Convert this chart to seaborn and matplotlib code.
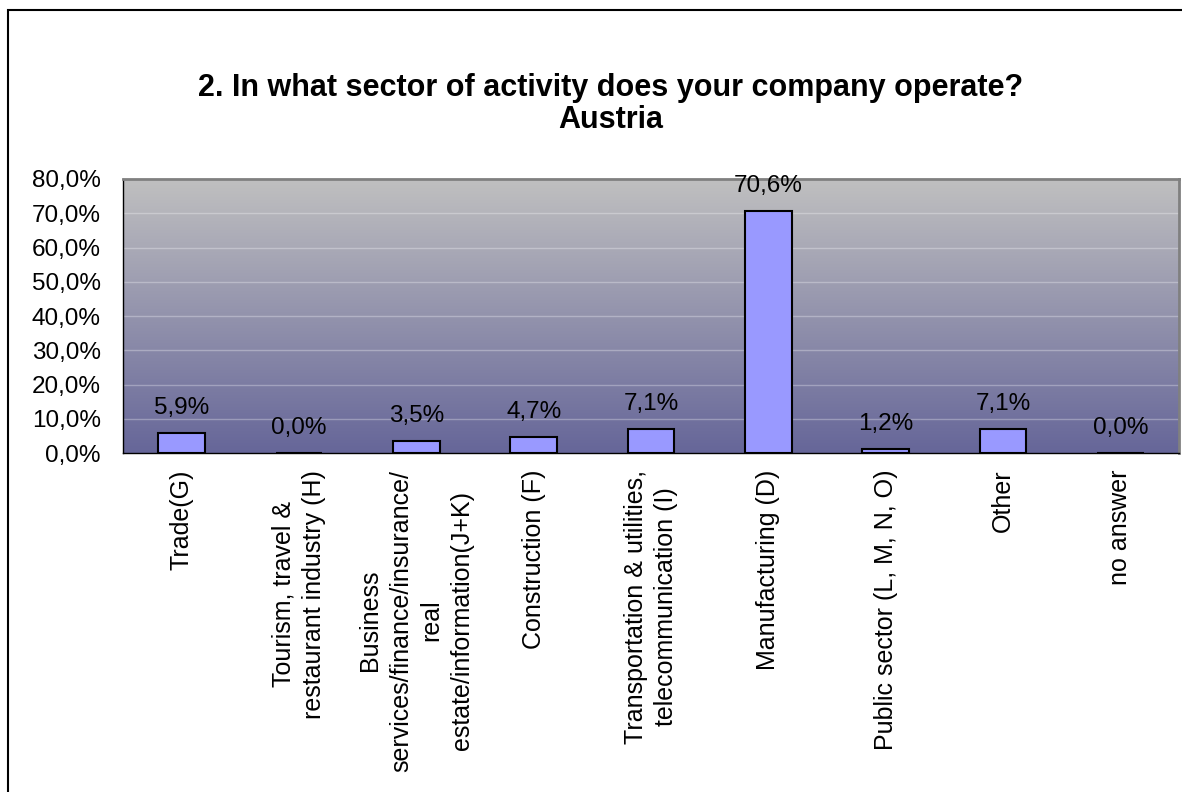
import matplotlib
matplotlib.use("Agg")
import matplotlib.pyplot as plt
import matplotlib.patches as mpatches
from matplotlib.colors import LinearSegmentedColormap
from matplotlib.ticker import FuncFormatter, FixedLocator
import seaborn as sns
import numpy as np
import pandas as pd

# | Data |
categories = [
    "Trade(G)",
    "Tourism, travel &\nrestaurant industry (H)",
    "Business\nservices/finance/insurance/\nreal\nestate/information(J+K)",
    "Construction (F)",
    "Transportation & utilities,\ntelecommunication (I)",
    "Manufacturing (D)",
    "Public sector (L, M, N, O)",
    "Other",
    "no answer",
]
shares = [5.9, 0.0, 3.5, 4.7, 7.1, 70.6, 1.2, 7.1, 0.0]
y_ticks = [0, 10, 20, 30, 40, 50, 60, 70, 80]
title = "2. In what sector of activity does your company operate?\nAustria"

df = pd.DataFrame({"sector": categories, "share": shares})

sns.set_style("white")
plt.rcParams["font.family"] = ["Liberation Sans", "DejaVu Sans"]
plt.rcParams["text.color"] = "black"
plt.rcParams["xtick.color"] = "black"
plt.rcParams["ytick.color"] = "black"

fig = plt.figure(figsize=(11.82, 7.92), dpi=100)
ax = fig.add_axes([123 / 1182, 1 - 453 / 792, (1179 - 123) / 1182, (453 - 179) / 792])

# gradient background of the plot area
grad_cmap = LinearSegmentedColormap.from_list("bg", ["#666699", "#C0C0C0"])
grad = np.linspace(0, 1, 256).reshape(-1, 1)
ax.imshow(grad, extent=[0, 1, 0, 1], transform=ax.transAxes, cmap=grad_cmap,
          origin="lower", aspect="auto", zorder=0)

sns.barplot(data=df, x="sector", y="share", color="#9999FF", edgecolor="black",
            linewidth=1.5, width=0.4, saturation=1, ax=ax, zorder=3)

ax.set_xlim(-0.5, len(categories) - 0.5)
ax.set_ylim(0, 80)
ax.set_yticks(y_ticks)
ax.yaxis.set_major_formatter(FuncFormatter(lambda v, p: f"{v:.1f}".replace(".", ",") + "%"))
for t in y_ticks[1:]:
    ax.axhline(t, color="white", alpha=0.3, lw=1, zorder=1)

# value labels
for i, v in enumerate(shares):
    ax.annotate(f"{v:.1f}".replace(".", ",") + "%", (i, v), xytext=(0, 10),
                textcoords="offset points", ha="center", va="bottom", fontsize=17.5,
                color="black", zorder=4)

# ticks: boundaries as minor ticks, labels at centres
ax.xaxis.set_minor_locator(FixedLocator(np.arange(-0.5, len(categories), 1.0)))
ax.tick_params(axis="x", which="minor", length=7, width=1, color="black", direction="out")
ax.tick_params(axis="x", which="major", length=0, pad=12)
ax.tick_params(axis="y", length=5, width=1, color="black", direction="out",
               labelsize=17.5, labelcolor="black", pad=11)
ax.set_xticks(range(len(categories)))
ax.set_xticklabels(categories, rotation=90, ha="center", va="top",
                   multialignment="center", fontsize=18, color="black",
                   linespacing=1.35)
ax.set_xlabel("")
ax.set_ylabel("")

for side in ["left", "bottom"]:
    ax.spines[side].set_color("black")
    ax.spines[side].set_linewidth(1)
for side in ["top", "right"]:
    ax.spines[side].set_color("#808080")
    ax.spines[side].set_linewidth(2)
    ax.spines[side].set_visible(True)

fig.text(611 / 1182, 1 - 73 / 792, title, ha="center", va="top", fontsize=22,
         fontweight="bold", linespacing=1.08, color="black")

# outer chart border
fig.patches.append(mpatches.Rectangle((8 / 1182, -0.1), 1.2, 1.1 - 10 / 792,
                                      transform=fig.transFigure, fill=False,
                                      edgecolor="black", lw=1.5))

fig.savefig("out.png", dpi=100)
